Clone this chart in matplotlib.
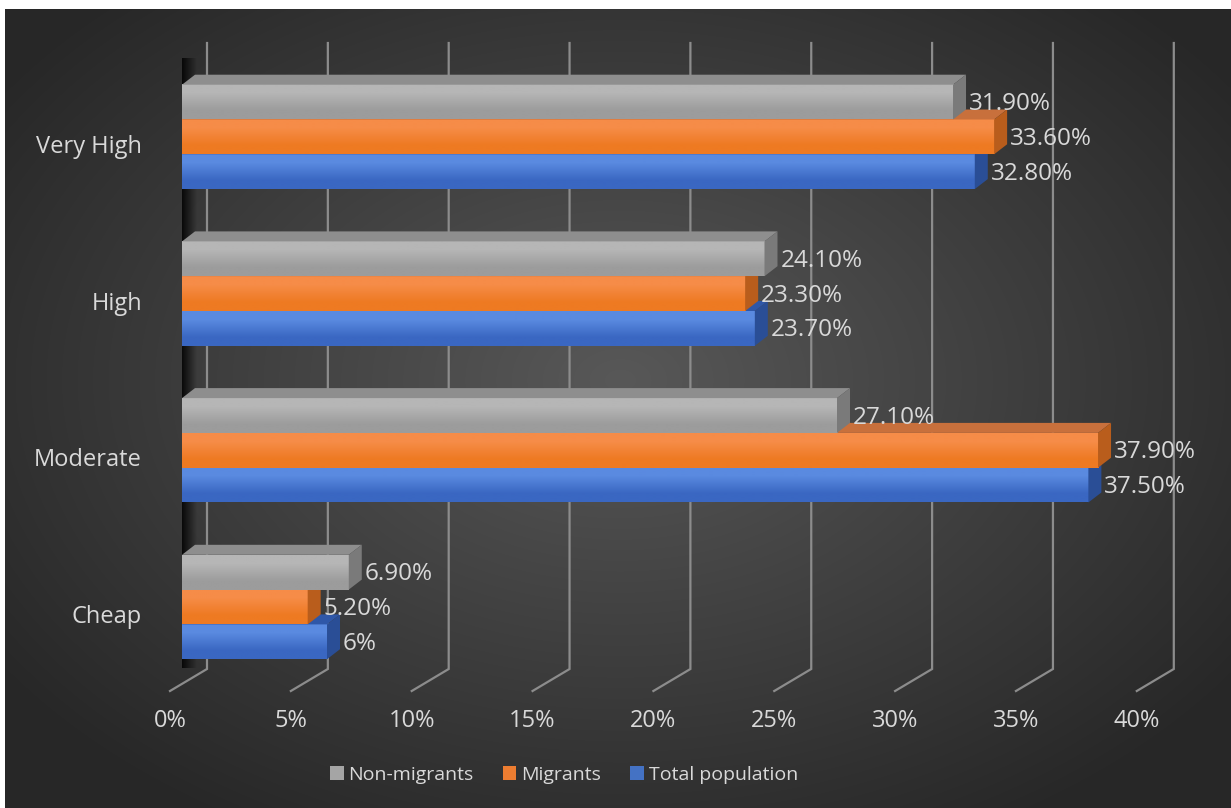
import numpy as np
import matplotlib
matplotlib.use('Agg')
import matplotlib.pyplot as plt
from matplotlib.patches import Polygon, Patch

# data (bottom to top)
categories = ['Cheap', 'Moderate', 'High', 'Very High']
non_migrants = [6.9, 27.1, 24.1, 31.9]
migrants = [5.2, 37.9, 23.3, 33.6]
total_population = [6.0, 37.5, 23.7, 32.8]
series_names = ['Non-migrants', 'Migrants', 'Total population']
x_ticks = [0, 5, 10, 15, 20, 25, 30, 35, 40]

FONT = 'Open Sans'
TXT = '#d9d9d9'

# pixel layout of the original picture
W, H = 1231, 808
X0, PXP = 182, 24.17      # x pixel of 0 %, pixels per %
Y0, PXC = 607, 156.7      # y pixel of first category, pixels per category


def px2x(p):
    return (p - X0) / PXP


def py2y(p):
    return (Y0 - p) / PXC


fig = plt.figure(figsize=(W / 100, H / 100), dpi=100, facecolor='white')
ax = fig.add_axes([0, 0, 1, 1])
ax.set_facecolor('white')
ax.axis('off')

# radial dark background
gx, gy = np.meshgrid(np.arange(5, W), np.arange(9, H))
d = np.sqrt(((gx - 620) / 760.0) ** 2 + ((gy - 380) / 520.0) ** 2)
d = np.clip(d, 0, 1)[..., None]
c_in = np.array([0x58, 0x58, 0x58]) / 255
c_out = np.array([0x27, 0x27, 0x27]) / 255
bg = c_in * (1 - d) + c_out * d
ax.imshow(bg, extent=[px2x(5), px2x(W), py2y(H), py2y(9)],
          aspect='auto', zorder=0, interpolation='bilinear')

# back wall gridlines + floor diagonals
y_top, y_back, y_front = py2y(43), py2y(669), py2y(691)
for t in x_ticks:
    bx = t + 25 / PXP
    fx = t - 12 / PXP
    ax.plot([bx, bx, fx], [y_top, y_back, y_front], color='#8c8c8c',
            lw=1.6, zorder=1, solid_joinstyle='miter')
    ax.text(fx, py2y(721), f'{t}%', color=TXT, fontsize=17, family=FONT,
            ha='center', va='center', zorder=5)

# left wall shadow
shade = np.zeros((1, 40, 4))
shade[..., 3] = np.linspace(0.85, 0.0, 40)
ax.imshow(shade, extent=[0, 15 / PXP, py2y(668), py2y(58)],
          aspect='auto', zorder=2, interpolation='bilinear')

# 3d bars
h = 34.8 / PXC
dx = 13 / PXP
dy = 10 / PXC
styles = [
    # front top, front bottom, top face, side face
    ('#5a8ae0', '#3a67c2', '#2f57a8', '#2a4e96'),  # total population
    ('#f68c48', '#ee7a22', '#c8703c', '#b95d1c'),  # migrants
    ('#b6b6b6', '#9c9c9c', '#8e8e8e', '#7a7a7a'),  # non-migrants
]
series = [total_population, migrants, non_migrants]
offsets = [-h, 0, h]


def label(v):
    return f'{v:.0f}%' if float(v).is_integer() else f'{v:.2f}%'


for i, cat in enumerate(categories):
    for j, (vals, off, st) in enumerate(zip(series, offsets, styles)):
        v = vals[i]
        yc = i + off
        lo, hi = yc - h / 2, yc + h / 2
        z = 3 + j * 0.1
        grad = np.array([matplotlib.colors.to_rgb(st[0]),
                         matplotlib.colors.to_rgb(st[1])])[:, None, :]
        ax.imshow(grad, extent=[0, v, lo, hi], aspect='auto', zorder=z,
                  interpolation='bilinear')
        ax.add_patch(Polygon([(0, hi), (v, hi), (v + dx, hi + dy), (dx, hi + dy)],
                             closed=True, facecolor=st[2], edgecolor='none', zorder=z))
        ax.add_patch(Polygon([(v, lo), (v + dx, lo + dy), (v + dx, hi + dy), (v, hi)],
                             closed=True, facecolor=st[3], edgecolor='none', zorder=z))
        ax.text(v + 16 / PXP, yc - 2 / PXC, label(v), color=TXT, fontsize=17.5,
                family=FONT, ha='left', va='center', zorder=6)
    ax.text(px2x(142), i - 10 / PXC, cat, color=TXT, fontsize=17, family=FONT,
            ha='right', va='center', zorder=6)

ax.set_xlim(px2x(0), px2x(W))
ax.set_ylim(py2y(H), py2y(0))

handles = [Patch(facecolor='#a5a5a5'), Patch(facecolor='#ed7d31'),
           Patch(facecolor='#4472c4')]
leg = fig.legend(handles, series_names, ncol=3, loc='center',
                 bbox_to_anchor=(564 / W, 1 - 775 / H), frameon=False,
                 handlelength=0.7, handleheight=0.7, handletextpad=0.25,
                 columnspacing=1.5, prop={'family': FONT, 'size': 14})
for t in leg.get_texts():
    t.set_color(TXT)

fig.savefig('out.png', dpi=100, facecolor='white')
